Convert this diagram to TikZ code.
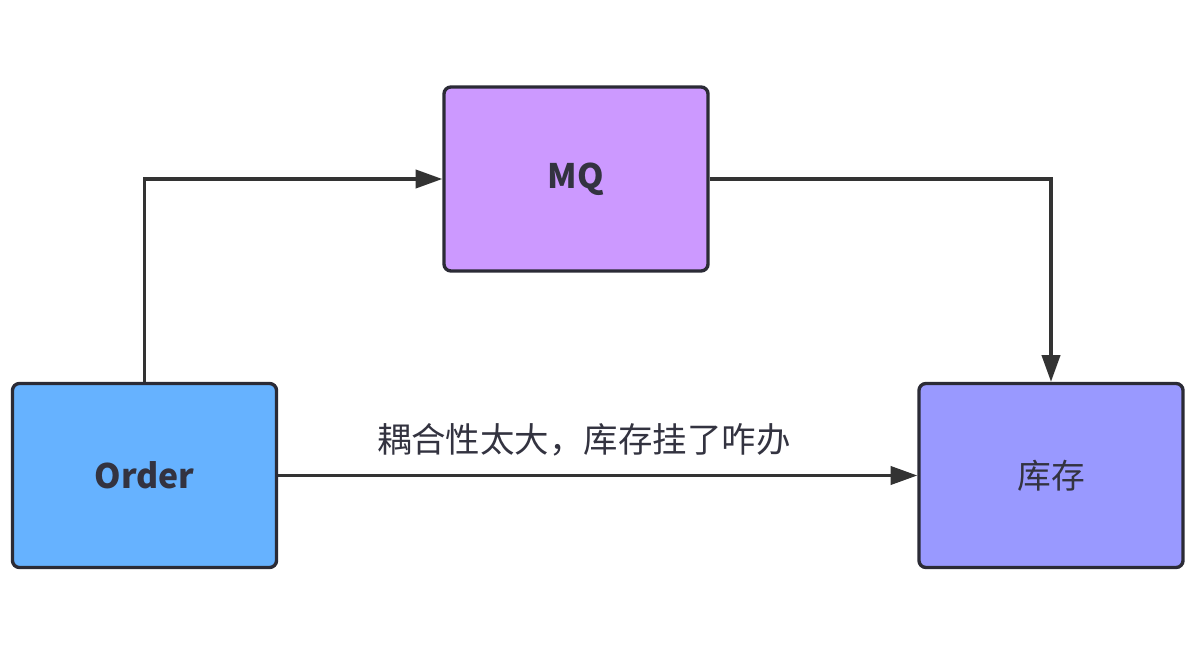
\documentclass[tikz,border=0pt]{standalone}
\usepackage{fontspec}
\setmainfont{Noto Sans CJK SC}
\usepackage{tikz}
\usetikzlibrary{arrows.meta,positioning}
\definecolor{orderblue}{HTML}{66B2FF}
\definecolor{mqpurple}{HTML}{CC99FF}
\definecolor{stockviolet}{HTML}{9999FF}
\definecolor{edgedark}{HTML}{2B2B36}
\definecolor{textdark}{HTML}{333340}

\begin{document}
\begin{tikzpicture}[x=0.025cm, y=-0.025cm,
    box/.style={rectangle, rounded corners=5pt, draw=edgedark, line width=2.4pt,
        minimum width=6.6cm, minimum height=4.6cm, inner sep=0pt,
        font=\fontsize{24}{28}\selectfont, text=textdark},
    flow/.style={-{Triangle[length=19pt,width=13pt]}, line width=2.3pt, draw=black!80},
]
    \useasboundingbox (0,0) rectangle (1192,662);

    \node[box, fill=orderblue, font=\fontsize{24}{28}\selectfont\bfseries] (order) at (144.5,475.5) {Order};
    \node[box, fill=mqpurple, font=\fontsize{24}{28}\selectfont\bfseries] (mq) at (576,179) {MQ};
    \node[box, fill=stockviolet] (stock) at (1051,475.5) {库存};

    \draw[flow] (order.north) |- (mq.west);
    \draw[flow] (mq.east) -| (stock.north);
    \draw[flow] (order.east) -- node[above=9pt, xshift=-0.35cm, font=\fontsize{24.5}{28}\selectfont, text=textdark] (warn) {耦合性太大，库存挂了咋办} (stock.west);
\end{tikzpicture}
\end{document}
